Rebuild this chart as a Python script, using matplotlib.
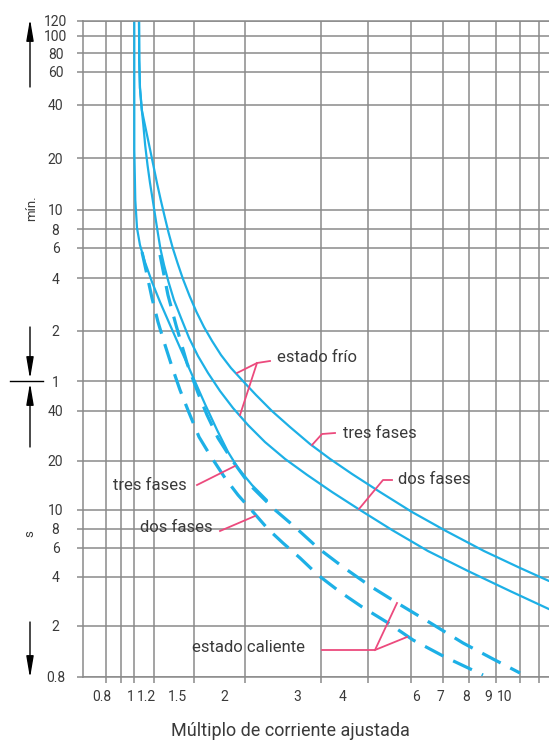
import numpy as np
import matplotlib
matplotlib.use("Agg")
import matplotlib.pyplot as plt
from matplotlib.transforms import Affine2D

# multiple of set current (x) / tripping time in seconds (y)
tres_frio_x = [1.044, 1.046, 1.053, 1.071, 1.108, 1.149, 1.189, 1.218, 1.244, 1.272, 1.300,
               1.330, 1.366, 1.408, 1.461, 1.519, 1.585, 1.660, 1.747, 1.849, 1.969, 2.123,
               2.311, 2.542, 2.826, 3.166, 3.625, 4.255, 5.020, 6.117, 7.542, 9.015, 10.55]
tres_frio_t = [7200, 4330, 2952, 2240, 1776, 1389, 1097, 861.8, 686, 553.5, 453.4,
               360, 294.5, 237.8, 190.2, 154.1, 126.5, 104.6, 86.2, 72.1, 61.1, 49.7,
               39.8, 31.9, 25.2, 20.5, 16.6, 12.88, 9.77, 7.76, 5.75, 4.54, 3.78]

dos_frio_x = [1.044, 1.046, 1.053, 1.071, 1.086, 1.104, 1.128, 1.154, 1.183, 1.206, 1.224,
              1.242, 1.267, 1.299, 1.339, 1.393, 1.457, 1.532, 1.622, 1.737, 1.871, 2.035,
              2.227, 2.476, 2.781, 3.205, 3.808, 4.527, 5.509, 6.947, 8.584, 10.55]
dos_frio_t = [7200, 4330, 2952, 2240, 1846, 1425, 1097, 861.8, 686, 560, 453.4,
              355.2, 286.8, 228.7, 180.4, 142.4, 109, 85.0, 67.3, 52.5, 41.5, 32.8,
              25.9, 20.5, 16.4, 12.88, 10.0, 7.88, 5.75, 4.35, 3.28, 2.54]

tres_cal_x = [1.0, 1.0, 1.009, 1.025, 1.053, 1.102, 1.175, 1.239, 1.310, 1.393, 1.489,
              1.594, 1.708, 1.818, 1.925, 2.079, 2.250]
tres_cal_t = [7200, 1336, 686, 487, 377, 298, 228.7, 175.7, 130, 92.4, 63.7,
              43.9, 30.6, 22.6, 18.05, 14.2, 11.5]

tres_cal_d_x = [1.239, 1.295, 1.354, 1.440, 1.532, 1.613, 1.717, 1.860, 2.057, 2.227, 2.349,
                2.610, 2.948, 3.429, 4.043, 4.692, 5.639, 6.750, 7.892, 9.014]
tres_cal_d_t = [328, 192.7, 130, 77.2, 51.1, 37.7, 27.4, 20.2, 14.2, 11.5, 10.0,
                8.19, 6.0, 4.60, 3.52, 2.73, 2.06, 1.471, 1.102, 0.855]

dos_cal_x = [1.073, 1.123, 1.175, 1.225, 1.274, 1.325, 1.385, 1.457, 1.541, 1.641, 1.787,
             1.925, 2.101, 2.262, 2.449, 2.680, 2.948, 3.366, 3.855, 4.435, 5.050, 6.080, 7.503]
dos_cal_t = [341, 251, 185, 135.1, 98.9, 73.1, 53.2, 38.8, 27.8, 21.6, 15.7,
             12.35, 9.65, 8.0, 6.47, 5.22, 4.11, 3.24, 2.62, 2.09, 1.553, 1.142, 0.825]

# grid values and labels
x_grid = [0.8, 0.9, 1, 1.2, 1.5, 2, 3, 4, 5, 6, 7, 8, 9, 10]
x_labels = ['0.8', '1', '1.2', '1.5', '2', '3', '4', '6', '7', '8', '9', '10']
y_grid = [0.8, 2, 4, 6, 8, 10, 20, 40, 60, 120, 240, 360, 480, 600, 1200, 2400, 3600, 4800, 6000, 7200]
y_labels = ['0.8', '2', '4', '6', '8', '10', '20', '40', '1', '2', '4', '6', '8', '10', '20', '40',
            '60', '80', '100', '120']

W, H = 549, 742
BLUE = '#1db0e6'
PINK = '#ec4a7d'
GRID = '#8a8a8a'
TXT = '#3a3a3a'

# the printed sheet is not quite logarithmic: map each grid value to where it sits
xs_val = [0.67] + x_grid + [10.55]
xs_pix = [83.3, 105.7, 120.7, 134.3, 154.3, 194.3, 244.7, 321.3, 368, 411.3, 442.7,
          469.3, 495.7, 519.7, 539.3, 549]
ys_pix = [676.7, 626, 577, 548, 529, 510, 460.7, 410.7, 381.3, 331, 278.3, 248, 229.3,
          210, 158.3, 104.7, 72, 53.3, 36, 20.7]
lxv = np.log10(xs_val)
lyv = np.log10(y_grid)
nyp = -np.array(ys_pix)


def fx(v):
    return np.interp(np.log10(np.clip(v, 1e-3, None)), lxv, xs_pix)


def fx_inv(p):
    return 10 ** np.interp(p, xs_pix, lxv)


def fy(v):
    return np.interp(np.log10(np.clip(v, 1e-3, None)), lyv, nyp)


def fy_inv(p):
    return 10 ** np.interp(p, nyp, lyv)


fig = plt.figure(figsize=(W / 100, H / 100), dpi=100)
ax = fig.add_axes([83.3 / W, (H - 676.7) / H, (W - 83.3) / W, (676.7 - 20.7) / H])
ax.set_xscale('function', functions=(fx, fx_inv))
ax.set_yscale('function', functions=(fy, fy_inv))
ax.set_xlim(0.67, 10.55)
ax.set_ylim(0.8, 7200)

pxT = Affine2D().scale(1 / W, -1 / H).translate(0, 1) + fig.transFigure

ax.set_xticks(x_grid)
ax.set_xticklabels([])
ax.set_xticks([], minor=True)
ax.set_yticks(y_grid)
ax.set_yticklabels(y_labels)
ax.set_yticks([], minor=True)
ax.tick_params(axis='both', which='major', direction='out', length=4, width=1.1, color=GRID)
ax.tick_params(axis='y', pad=16, labelsize=10, labelcolor=TXT)
for lab in ax.get_yticklabels():
    lab.set_horizontalalignment('center')
    lab.set_family(['Liberation Sans Narrow', 'Roboto'])
ax.grid(True, color=GRID, lw=1.1)
for s in ['left', 'top', 'bottom']:
    ax.spines[s].set_color(GRID)
    ax.spines[s].set_linewidth(1.1)
ax.spines['right'].set_visible(False)

for xp, lab in zip([102, 131, 146, 177, 224, 297, 343, 416, 440, 466, 488, 505], x_labels):
    ax.text(xp, 697, lab, transform=pxT, ha='center', va='center', fontsize=10, color=TXT,
            family=['Liberation Sans Narrow', 'Roboto'])

# curves
ax.plot(tres_frio_x, tres_frio_t, color=BLUE, lw=1.6, solid_capstyle='round')
ax.plot(dos_frio_x, dos_frio_t, color=BLUE, lw=1.6, solid_capstyle='round')
ax.plot(tres_cal_x, tres_cal_t, color=BLUE, lw=1.6, solid_capstyle='round')
ax.plot(tres_cal_d_x, tres_cal_d_t, color=BLUE, lw=2.3, dashes=(6.5, 3.4))
ax.plot(dos_cal_x, dos_cal_t, color=BLUE, lw=2.3, dashes=(6.5, 3.4))

# labels with leaders
font = dict(family='Roboto', fontsize=12, color=TXT, va='center', transform=pxT)
ax.text(277, 357, 'estado frío', **font)
ax.text(343, 433, 'tres fases', **font)
ax.text(398, 480, 'dos fases', **font)
ax.text(113, 486, 'tres fases', **font)
ax.text(140, 528, 'dos fases', **font)
ax.text(192, 647, 'estado caliente', **font)

leaders = [
    [(270, 361), (257, 363), (237, 373)],
    [(257, 363), (240, 415)],
    [(335, 433), (322, 434), (312, 445)],
    [(392, 480), (383, 480), (359, 509)],
    [(197, 485), (235, 466)],
    [(220, 531), (255, 516)],
    [(322, 650), (375, 650), (397, 603)],
    [(375, 650), (407, 637)],
]
for pts in leaders:
    xx, yy = zip(*pts)
    ax.plot(xx, yy, color=PINK, lw=1.3, transform=pxT, clip_on=False)

# left side markers
ax.text(32, 208, 'mín.', transform=pxT, rotation=90, ha='center', va='center',
        fontsize=9.5, color=TXT, family='Roboto')
ax.text(30, 534, 's', transform=pxT, rotation=90, ha='center', va='center',
        fontsize=9.5, color=TXT, family='Roboto')
arrow = dict(arrowstyle='-|>,head_length=1.3,head_width=0.22', color='black', lw=1.0,
             shrinkA=0, shrinkB=0, mutation_scale=10)
ax.annotate('', xy=(30, 19), xytext=(30, 87), xycoords=pxT, textcoords=pxT,
            arrowprops=arrow, annotation_clip=False)
ax.annotate('', xy=(30, 678), xytext=(30, 622), xycoords=pxT, textcoords=pxT,
            arrowprops=arrow, annotation_clip=False)
ax.annotate('', xy=(30, 379), xytext=(30, 327), xycoords=pxT, textcoords=pxT,
            arrowprops=arrow, annotation_clip=False)
ax.annotate('', xy=(30, 383), xytext=(30, 447), xycoords=pxT, textcoords=pxT,
            arrowprops=arrow, annotation_clip=False)
ax.plot([10, 43], [381, 381], color='black', lw=1.0, transform=pxT, clip_on=False)

ax.text(290, 731, 'Múltiplo de corriente ajustada', transform=pxT, ha='center', va='center',
        fontsize=13, color=TXT, family='Roboto')

fig.savefig('out.png', dpi=100)
